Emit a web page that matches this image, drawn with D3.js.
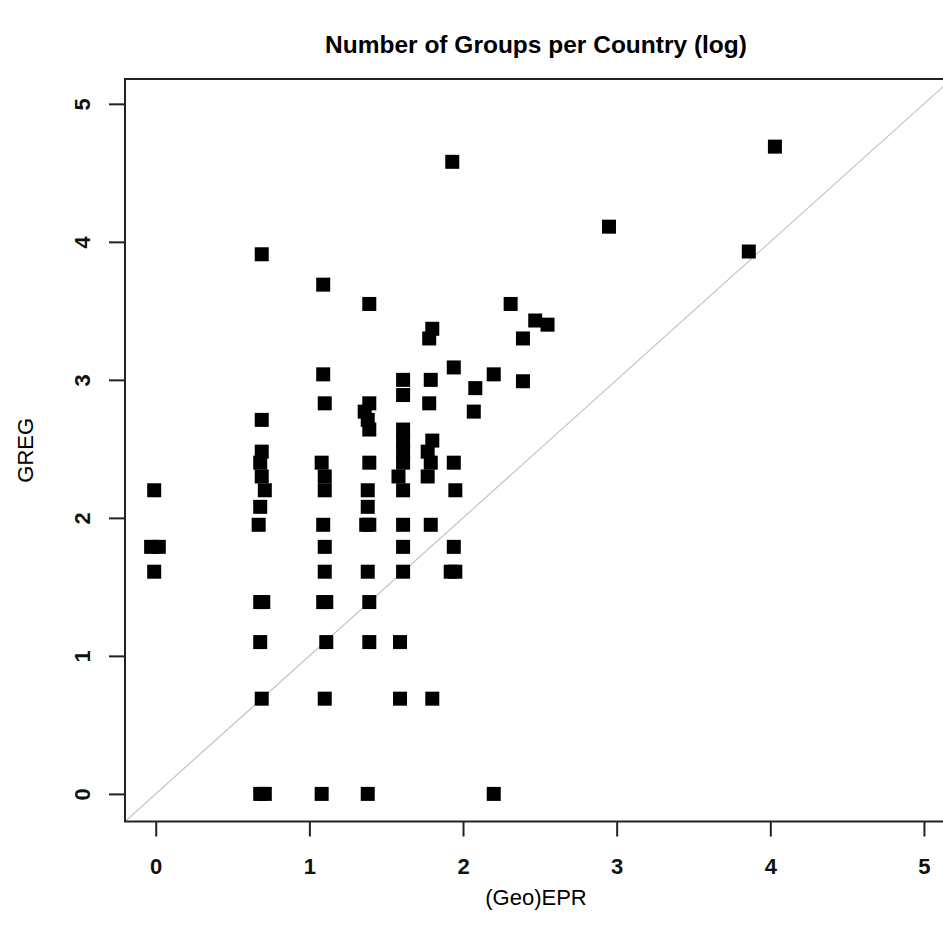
<!DOCTYPE html>
<html lang="en">
<head>
  <meta charset="UTF-8">
  <title>Number of Groups per Country (log)</title>
  <script src="https://d3js.org/d3.v7.min.js"></script>
  <style>
    body {
      margin: 0;
      background: #fff;
      font-family: "Liberation Sans", Arial, sans-serif;
    }
    svg {
      display: block;
    }
  </style>
</head>
<body>

<div id="chart"></div>

<script>
  // log group counts, (Geo)EPR on x, GREG on y
  const epr = [
    -0.01, -0.03, 0.02, -0.01,
    0.69, 0.69, 0.69, 0.68, 0.69, 0.71, 0.68, 0.67, 0.68, 0.70, 0.68, 0.69, 0.68, 0.71,
    1.09, 1.09, 1.10, 1.08, 1.10, 1.10, 1.09, 1.10, 1.10, 1.09, 1.11, 1.11, 1.10, 1.08,
    1.39, 1.39, 1.36, 1.38, 1.39, 1.39, 1.38, 1.38, 1.37, 1.39, 1.38, 1.39, 1.39, 1.38,
    1.61, 1.61, 1.61, 1.61, 1.61, 1.61, 1.58, 1.61, 1.61, 1.61, 1.61, 1.59, 1.59,
    1.80, 1.78, 1.79, 1.78, 1.80, 1.77, 1.79, 1.77, 1.79, 1.80,
    1.93, 1.94, 1.94, 1.95, 1.94, 1.92, 1.95,
    2.08, 2.07, 2.20, 2.20, 2.31, 2.39, 2.39, 2.47, 2.55, 2.95, 3.86, 4.03
  ];
  const greg = [
    2.20, 1.79, 1.79, 1.61,
    3.91, 2.71, 2.48, 2.40, 2.30, 2.20, 2.08, 1.95, 1.39, 1.39, 1.10, 0.69, 0.00, 0.00,
    3.69, 3.04, 2.83, 2.40, 2.30, 2.20, 1.95, 1.79, 1.61, 1.39, 1.39, 1.10, 0.69, 0.00,
    3.55, 2.83, 2.77, 2.71, 2.64, 2.40, 2.20, 2.08, 1.95, 1.95, 1.61, 1.39, 1.10, 0.00,
    3.00, 2.89, 2.64, 2.56, 2.48, 2.40, 2.30, 2.20, 1.95, 1.79, 1.61, 1.10, 0.69,
    3.37, 3.30, 3.00, 2.83, 2.56, 2.48, 2.40, 2.30, 1.95, 0.69,
    4.58, 3.09, 2.40, 2.20, 1.79, 1.61, 1.61,
    2.94, 2.77, 3.04, 0.00, 3.55, 3.30, 2.99, 3.43, 3.40, 4.11, 3.93, 4.69
  ];
  const xTicks = [0, 1, 2, 3, 4, 5];
  const yTicks = [0, 1, 2, 3, 4, 5];

  const width = 943, height = 939;
  const plotL = 125, plotR = 947, plotT = 79, plotB = 821.5;
  const midX = (plotL + plotR) / 2, midY = (plotT + plotB) / 2;

  const x = d3.scaleLinear().domain([-0.2, 5.15]).range([plotL, plotR]);
  const y = d3.scaleLinear().domain([-0.2, 5.18]).range([plotB, plotT]);

  const svg = d3.select("#chart")
                .append("svg")
                .attr("width", width)
                .attr("height", height);

  // clip for the 45 degree line
  svg.append("clipPath")
     .attr("id", "plotclip")
     .append("rect")
     .attr("x", plotL)
     .attr("y", plotT)
     .attr("width", plotR - plotL)
     .attr("height", plotB - plotT);

  // y = x reference line
  svg.append("line")
     .attr("clip-path", "url(#plotclip)")
     .attr("x1", x(-0.2)).attr("y1", y(-0.2))
     .attr("x2", x(6)).attr("y2", y(6))
     .attr("stroke", "#c4c4c4")
     .attr("stroke-width", 1.2);

  // points (filled squares)
  const pts = epr.map((v, i) => [v, greg[i]]);
  const sz = 14;
  svg.append("g")
     .selectAll("rect")
     .data(pts)
     .join("rect")
     .attr("x", d => x(d[0]) - sz / 2)
     .attr("y", d => y(d[1]) - sz / 2)
     .attr("width", sz)
     .attr("height", sz)
     .attr("fill", "#000");

  // plot box
  svg.append("rect")
     .attr("x", plotL)
     .attr("y", plotT)
     .attr("width", plotR - plotL)
     .attr("height", plotB - plotT)
     .attr("fill", "none")
     .attr("stroke", "#222")
     .attr("stroke-width", 2);

  // bottom axis
  const xAxis = svg.append("g")
     .attr("transform", `translate(0,${plotB})`)
     .call(d3.axisBottom(x).tickValues(xTicks).tickSize(15).tickFormat(d3.format("d")));
  xAxis.select(".domain").remove();
  xAxis.selectAll("line").attr("stroke", "#222").attr("stroke-width", 2);
  xAxis.selectAll("text")
       .attr("y", 52)
       .attr("dy", null)
       .attr("fill", "#111")
       .style("font-family", "'Liberation Sans', Arial, sans-serif")
       .style("font-size", "22px")
       .style("font-weight", "bold");

  // left axis, labels turned like R's default
  const yAxis = svg.append("g")
     .attr("transform", `translate(${plotL},0)`)
     .call(d3.axisLeft(y).tickValues(yTicks).tickSize(16).tickFormat(d3.format("d")));
  yAxis.select(".domain").remove();
  yAxis.selectAll("line").attr("stroke", "#222").attr("stroke-width", 2);
  yAxis.selectAll("text")
       .attr("x", 0)
       .attr("dy", null)
       .attr("text-anchor", "middle")
       .attr("transform", "translate(-35,0) rotate(-90)")
       .attr("fill", "#111")
       .style("font-family", "'Liberation Sans', Arial, sans-serif")
       .style("font-size", "22px")
       .style("font-weight", "bold");

  // title and axis labels
  svg.append("text")
     .attr("x", midX)
     .attr("y", 53)
     .attr("text-anchor", "middle")
     .style("font-size", "24.5px")
     .style("font-weight", "bold")
     .text("Number of Groups per Country (log)");

  svg.append("text")
     .attr("x", midX)
     .attr("y", 905)
     .attr("text-anchor", "middle")
     .style("font-size", "22px")
     .text("(Geo)EPR");

  svg.append("text")
     .attr("transform", `translate(33,${midY}) rotate(-90)`)
     .attr("text-anchor", "middle")
     .style("font-size", "22px")
     .text("GREG");
</script>

</body>
</html>
